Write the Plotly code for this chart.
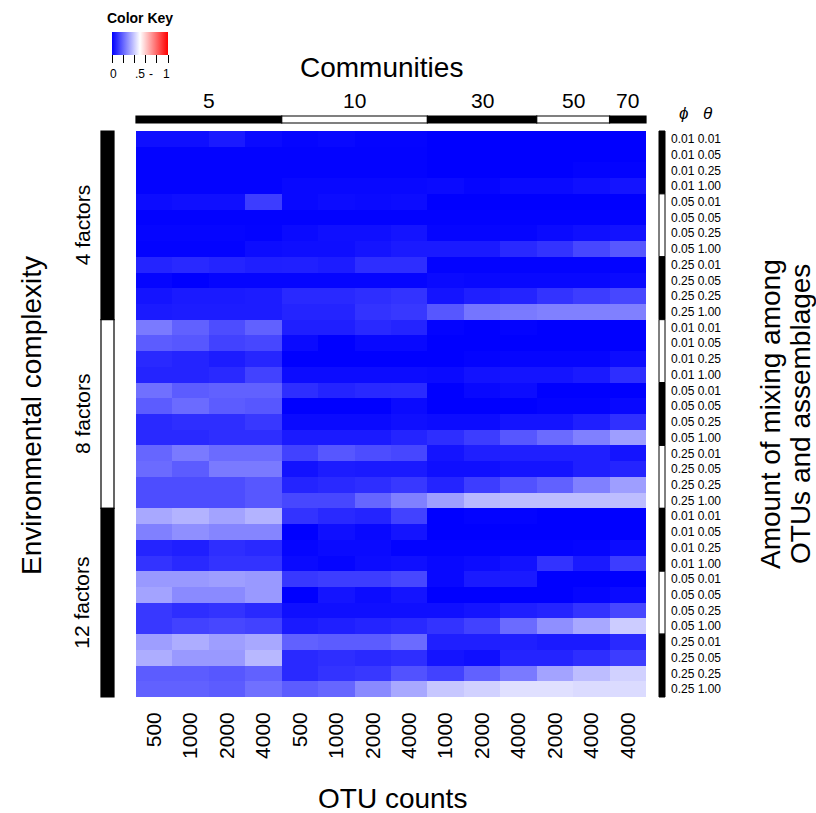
import plotly.graph_objects as go

# ---------------- data ----------------
communities = ["5", "10", "30", "50", "70"]
community_sizes = [4, 4, 3, 2, 1]
otu_counts = ["500", "1000", "2000", "4000", "500", "1000", "2000", "4000",
              "1000", "2000", "4000", "2000", "4000", "4000"]
complexity = ["4 factors", "8 factors", "12 factors"]
phi = ["0.01", "0.05", "0.25"]
theta = ["0.01", "0.05", "0.25", "1.00"]

four_factors = [
    [0.03, 0.03, 0.05, 0.02, 0.01, 0.015, 0.008, 0.008, 0, 0, 0, 0, 0, 0],
    [0.005, 0.005, 0.005, 0.005, 0.005, 0.005, 0.005, 0.005, 0, 0, 0, 0, 0, 0],
    [0.006, 0.006, 0.006, 0.006, 0.006, 0.006, 0.006, 0.006, 0, 0, 0, 0, 0.006, 0.006],
    [0.006, 0.006, 0.006, 0.006, 0.016, 0.016, 0.016, 0.016, 0.02, 0.01, 0.02, 0.02, 0.03, 0.04],
    [0.024, 0.03, 0.03, 0.12, 0.016, 0.024, 0.02, 0.024, 0, 0, 0, 0, 0, 0],
    [0.004, 0.004, 0.004, 0.004, 0.004, 0.004, 0.004, 0.004, 0.004, 0.004, 0.004, 0.004, 0.004, 0.004],
    [0.01, 0.01, 0.01, 0.006, 0.02, 0.03, 0.03, 0.04, 0.01, 0.01, 0.01, 0.02, 0.03, 0.035],
    [0.006, 0.006, 0.006, 0.024, 0.027, 0.027, 0.04, 0.05, 0.05, 0.05, 0.08, 0.1, 0.14, 0.17],
    [0.07, 0.08, 0.07, 0.06, 0.063, 0.055, 0.09, 0.09, 0.006, 0.006, 0.006, 0.006, 0.006, 0.006],
    [0.01, 0, 0.01, 0.01, 0.01, 0.01, 0.01, 0.01, 0.02, 0.016, 0.016, 0.016, 0.016, 0.02],
    [0.04, 0.05, 0.05, 0.055, 0.08, 0.08, 0.09, 0.1, 0.04, 0.06, 0.07, 0.1, 0.12, 0.14],
    [0.05, 0.055, 0.055, 0.055, 0.07, 0.07, 0.1, 0.11, 0.17, 0.23, 0.24, 0.25, 0.25, 0.25],
]
eight_factors = [
    [0.24, 0.19, 0.15, 0.19, 0.06, 0.06, 0.08, 0.07, 0.006, 0, 0.006, 0, 0, 0],
    [0.18, 0.17, 0.13, 0.14, 0.02, 0, 0.016, 0.016, 0, 0, 0, 0, 0, 0],
    [0.08, 0.07, 0.055, 0.075, 0, 0, 0, 0, 0, 0.006, 0.01, 0.01, 0.01, 0.024],
    [0.07, 0.07, 0.08, 0.13, 0.024, 0.024, 0.024, 0.024, 0.02, 0.035, 0.04, 0.04, 0.05, 0.09],
    [0.22, 0.18, 0.19, 0.19, 0.09, 0.07, 0.08, 0.082, 0, 0.016, 0.024, 0, 0, 0],
    [0.18, 0.21, 0.18, 0.17, 0, 0, 0, 0.02, 0, 0, 0, 0.006, 0.006, 0.016],
    [0.08, 0.09, 0.09, 0.11, 0.02, 0.02, 0.02, 0.03, 0.024, 0.024, 0.04, 0.04, 0.06, 0.095],
    [0.08, 0.08, 0.09, 0.09, 0.05, 0.05, 0.05, 0.07, 0.09, 0.12, 0.17, 0.21, 0.25, 0.31],
    [0.2, 0.24, 0.21, 0.21, 0.13, 0.17, 0.15, 0.14, 0.04, 0.06, 0.06, 0.06, 0.06, 0.04],
    [0.21, 0.18, 0.24, 0.24, 0.035, 0.055, 0.05, 0.05, 0.03, 0.03, 0.04, 0.04, 0.06, 0.07],
    [0.15, 0.15, 0.15, 0.17, 0.07, 0.08, 0.09, 0.11, 0.07, 0.12, 0.16, 0.19, 0.25, 0.31],
    [0.15, 0.15, 0.15, 0.17, 0.14, 0.14, 0.2, 0.25, 0.31, 0.36, 0.37, 0.37, 0.37, 0.37],
]
twelve_factors = [
    [0.33, 0.35, 0.32, 0.35, 0.1, 0.08, 0.07, 0.13, 0, 0.006, 0.006, 0, 0, 0],
    [0.25, 0.28, 0.26, 0.26, 0, 0.03, 0.016, 0.04, 0, 0, 0, 0, 0, 0],
    [0.07, 0.06, 0.09, 0.08, 0.01, 0.02, 0.02, 0.006, 0.006, 0.006, 0.006, 0.006, 0.01, 0.024],
    [0.1, 0.08, 0.1, 0.1, 0.02, 0.01, 0.024, 0.03, 0.016, 0.024, 0.035, 0.1, 0.05, 0.12],
    [0.3, 0.3, 0.31, 0.3, 0.11, 0.12, 0.12, 0.14, 0.016, 0.05, 0.05, 0, 0, 0],
    [0.32, 0.27, 0.27, 0.3, 0, 0.04, 0.024, 0.04, 0, 0, 0, 0, 0.01, 0.02],
    [0.11, 0.09, 0.1, 0.08, 0.03, 0.03, 0.03, 0.03, 0.03, 0.04, 0.06, 0.07, 0.1, 0.14],
    [0.11, 0.13, 0.14, 0.13, 0.05, 0.06, 0.07, 0.08, 0.1, 0.13, 0.21, 0.28, 0.33, 0.4],
    [0.31, 0.34, 0.31, 0.33, 0.19, 0.18, 0.18, 0.21, 0.06, 0.06, 0.06, 0.05, 0.05, 0.08],
    [0.34, 0.3, 0.3, 0.36, 0.08, 0.09, 0.08, 0.09, 0.04, 0.03, 0.07, 0.07, 0.09, 0.12],
    [0.18, 0.18, 0.17, 0.19, 0.08, 0.1, 0.11, 0.16, 0.13, 0.19, 0.24, 0.32, 0.37, 0.41],
    [0.19, 0.19, 0.18, 0.22, 0.18, 0.2, 0.27, 0.33, 0.39, 0.41, 0.44, 0.44, 0.43, 0.43],
]

# ---------------- geometry helpers ----------------
W, H = 816, 813
L, R, T, B = 136, 646, 131, 697   # plot area in pixels


def px(x):
    return (x - L) / (R - L)


def py(y):
    return (B - y) / (B - T)


FONT = "Liberation Sans, Arial, sans-serif"

z = four_factors + eight_factors + twelve_factors
n_rows = len(z)
n_cols = len(otu_counts)
row_labels = [f"{p} {t}" for _ in complexity for p in phi for t in theta]

colorscale = [[0.0, "rgb(0,0,255)"], [0.5, "rgb(255,255,255)"], [1.0, "rgb(255,0,0)"]]

fig = go.Figure()
fig.add_trace(go.Heatmap(
    z=z, x=list(range(n_cols)), y=list(range(n_rows)),
    zmin=0, zmax=1, colorscale=colorscale, hoverongaps=False,
    colorbar=dict(
        orientation="h", x=px(140), xanchor="center", y=py(32), yanchor="top",
        len=56, lenmode="pixels", thickness=23, thicknessmode="pixels",
        xpad=0, ypad=0, outlinewidth=0,
        tickvals=[0, 0.2, 0.4, 0.6, 0.8, 1.0], ticktext=[""] * 6,
        ticks="outside", ticklen=8, tickcolor="black", tickwidth=1.3,
    ),
))

shapes = []
annotations = []

# top community bar
col_start = 0
for i, (name, size) in enumerate(zip(communities, community_sizes)):
    x0 = px(L + col_start * (R - L) / n_cols)
    x1 = px(L + (col_start + size) * (R - L) / n_cols)
    fill = "black" if i % 2 == 0 else "white"
    shapes.append(dict(type="rect", xref="paper", yref="paper", x0=x0, x1=x1,
                       y0=py(123), y1=py(116), fillcolor=fill,
                       line=dict(color="black", width=1.2)))
    annotations.append(dict(xref="paper", yref="paper", x=(x0 + x1) / 2, y=py(114),
                            yanchor="bottom", xanchor="center", showarrow=False,
                            text=name, font=dict(size=21, family=FONT, color="black")))
    col_start += size

# left complexity bar
rows_per_group = len(phi) * len(theta)
for g, name in enumerate(complexity):
    y_top = T + g * rows_per_group * (B - T) / n_rows
    y_bot = T + (g + 1) * rows_per_group * (B - T) / n_rows
    fill = "black" if g % 2 == 0 else "white"
    shapes.append(dict(type="rect", xref="paper", yref="paper", x0=px(101), x1=px(114),
                       y0=py(y_bot), y1=py(y_top), fillcolor=fill,
                       line=dict(color="black", width=1.2)))
    annotations.append(dict(xref="paper", yref="paper", x=px(82), y=py((y_top + y_bot) / 2),
                            xanchor="center", yanchor="middle", showarrow=False,
                            textangle=-90, text=name,
                            font=dict(size=21, family=FONT, color="black")))

# right phi bar
for g in range(len(complexity) * len(phi)):
    y_top = T + g * len(theta) * (B - T) / n_rows
    y_bot = T + (g + 1) * len(theta) * (B - T) / n_rows
    fill = "black" if g % 2 == 0 else "white"
    shapes.append(dict(type="rect", xref="paper", yref="paper", x0=px(659), x1=px(665),
                       y0=py(y_bot), y1=py(y_top), fillcolor=fill,
                       line=dict(color="black", width=1)))

# titles
title_font = dict(size=28, family=FONT, color="black")
annotations += [
    dict(xref="paper", yref="paper", x=px(381), y=py(67), text="Communities",
         showarrow=False, xanchor="center", yanchor="middle", font=title_font),
    dict(xref="paper", yref="paper", x=px(392), y=py(798), text="OTU counts",
         showarrow=False, xanchor="center", yanchor="middle", font=title_font),
    dict(xref="paper", yref="paper", x=px(31), y=py(416), text="Environmental complexity",
         showarrow=False, xanchor="center", yanchor="middle", textangle=-90, font=title_font),
    dict(xref="paper", yref="paper", x=px(770), y=py(414), text="Amount of mixing among",
         showarrow=False, xanchor="center", yanchor="middle", textangle=-90, font=title_font),
    dict(xref="paper", yref="paper", x=px(800), y=py(414), text="OTUs and assemblages",
         showarrow=False, xanchor="center", yanchor="middle", textangle=-90, font=title_font),
    dict(xref="paper", yref="paper", x=px(683), y=py(113), text="<i>ϕ</i>",
         showarrow=False, xanchor="center", yanchor="middle",
         font=dict(size=17, family=FONT, color="black")),
    dict(xref="paper", yref="paper", x=px(708), y=py(113), text="<i>θ</i>",
         showarrow=False, xanchor="center", yanchor="middle",
         font=dict(size=17, family=FONT, color="black")),
    dict(xref="paper", yref="paper", x=px(140), y=py(18), text="<b>Color Key</b>",
         showarrow=False, xanchor="center", yanchor="middle",
         font=dict(size=14, family=FONT, color="black")),
]
# color key labels
for lbl, xp in [("0", 113), (".5", 140), ("-", 151), ("1", 166)]:
    annotations.append(dict(xref="paper", yref="paper", x=px(xp), y=py(74), text=lbl,
                            showarrow=False, xanchor="center", yanchor="middle",
                            font=dict(size=12, family=FONT, color="black")))

fig.update_layout(
    width=W, height=H,
    margin=dict(l=L, r=W - R, t=T, b=H - B, pad=0),
    paper_bgcolor="white", plot_bgcolor="white",
    font=dict(family=FONT, color="black"),
    shapes=shapes, annotations=annotations,
    xaxis=dict(range=[-0.5, n_cols - 0.5], tickvals=list(range(n_cols)), ticktext=otu_counts,
               tickangle=-90, tickfont=dict(size=21, family=FONT, color="black"),
               ticks="", showgrid=False, zeroline=False, showline=False,
               ticklabelstandoff=10, fixedrange=True),
    yaxis=dict(range=[n_rows - 0.5, -0.5], tickvals=list(range(n_rows)), ticktext=row_labels,
               side="right", tickfont=dict(size=12, family=FONT, color="black"),
               ticks="", showgrid=False, zeroline=False, showline=False,
               ticklabelstandoff=24, fixedrange=True),
    showlegend=False,
)

fig.write_html(
    "out.html",
    config={"displayModeBar": False},
    post_script="document.body.style.margin='0';document.body.style.overflow='hidden';",
)
